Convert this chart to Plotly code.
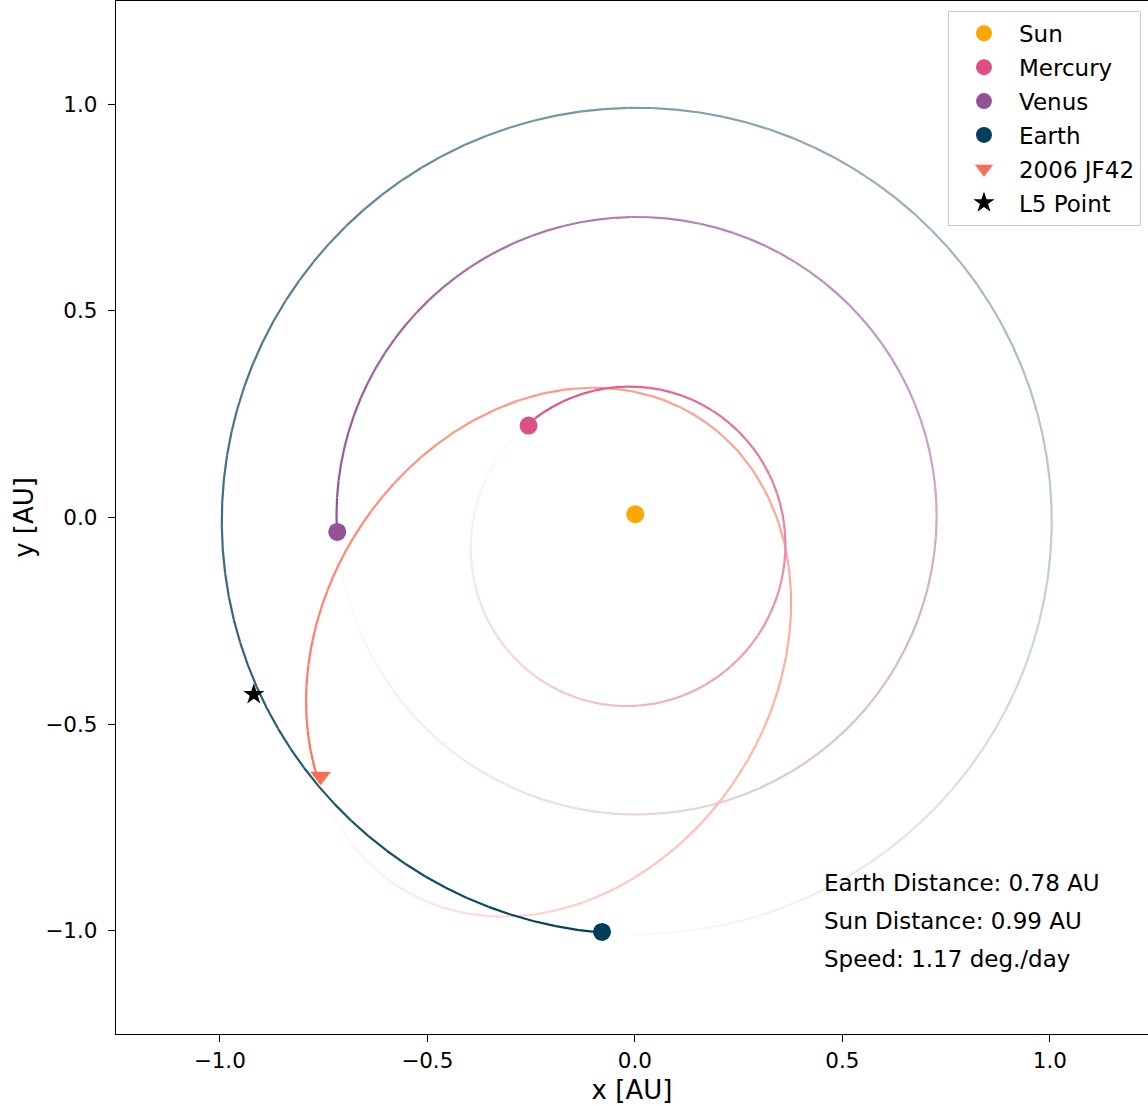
import numpy as np
import plotly.graph_objects as go

# ---------------- data ----------------
body_names = ["Sun", "Mercury", "Venus", "Earth", "2006 JF42", "L5 Point"]
body_colors = ["#ffa600", "#dd5182", "#955196", "#003f5c", "#ff6e54", "#000000"]
body_symbols = ["circle", "circle", "circle", "circle", "triangle-down", "star"]
body_sizes = [18, 18, 18, 18, 18, 16]
# current positions [AU]
pos_x = [0.001, -0.256, -0.717, -0.079, -0.757, -0.918]
pos_y = [0.008, 0.2225, -0.035, -1.003, -0.626, -0.428]

# orbits drawn as fading trails (one orbital period behind each body)
orbit_bodies = ["Mercury", "Venus", "Earth", "2006 JF42"]
semi_major = [0.387, 0.723, 1.000, 0.673]          # AU
eccentricity = [0.2056, 0.0068, 0.0167, 0.585]
perihelion_lon = [77.5, 131.5, 102.9, 58.0]        # deg

info_lines = ["Earth Distance: 0.78 AU", "Sun Distance: 0.99 AU", "Speed: 1.17 deg./day"]

x_ticks = [-1.0, -0.5, 0.0, 0.5, 1.0]
y_ticks = [-1.0, -0.5, 0.0, 0.5, 1.0]

# ---------------- helpers ----------------
def hex_rgb(h):
    h = h.lstrip("#")
    return tuple(int(h[i:i + 2], 16) for i in (0, 2, 4))


def blend(h, a):
    r, g, b = hex_rgb(h)
    return "rgb(%d,%d,%d)" % (round(255 + (r - 255) * a), round(255 + (g - 255) * a), round(255 + (b - 255) * a))


def kepler_E(M, e):
    E = M.copy()
    for _ in range(60):
        E = E - (E - e * np.sin(E) - M) / (1 - e * np.cos(E))
    return E


sun_x, sun_y = pos_x[0], pos_y[0]
K = 110
STEP = 10
N = K * STEP + 1
segments = []
for name, a, e, w in zip(orbit_bodies, semi_major, eccentricity, perihelion_lon):
    i = body_names.index(name)
    col = body_colors[i]
    wr = np.radians(w)
    theta0 = np.arctan2(pos_y[i] - sun_y, pos_x[i] - sun_x)
    nu0 = theta0 - wr
    E0 = 2 * np.arctan2(np.sqrt(1 - e) * np.sin(nu0 / 2), np.sqrt(1 + e) * np.cos(nu0 / 2))
    M0 = E0 - e * np.sin(E0)
    M = np.linspace(M0 - 2 * np.pi, M0, N)
    E = kepler_E(M, e)
    nu = 2 * np.arctan2(np.sqrt(1 + e) * np.sin(E / 2), np.sqrt(1 - e) * np.cos(E / 2))
    r = a * (1 - e * np.cos(E))
    xs = sun_x + r * np.cos(nu + wr)
    ys = sun_y + r * np.sin(nu + wr)
    alpha = np.linspace(0, 1, N)
    for k in range(K):
        s = k * STEP
        t = s + STEP + 1
        segments.append((float(alpha[s:t].mean()), col, xs[s:t], ys[s:t]))

segments.sort(key=lambda s: s[0])

fig = go.Figure()
for a, col, xs, ys in segments:
    fig.add_trace(go.Scatter(x=xs, y=ys, mode="lines",
                             line=dict(color=blend(col, a), width=2.2),
                             showlegend=False, hoverinfo="skip"))

for i, name in enumerate(body_names):
    fig.add_trace(go.Scatter(x=[pos_x[i]], y=[pos_y[i]], mode="markers", name=name,
                             legendgroup=name,
                             marker=dict(color=body_colors[i], symbol=body_symbols[i],
                                         size=body_sizes[i], line=dict(width=0))))

ann_y = [0.1465, 0.1091, 0.0723]
for txt, yy in zip(info_lines, ann_y):
    fig.add_annotation(x=0.6841, y=yy, xref="paper", yref="paper", text=txt,
                       showarrow=False, xanchor="left", yanchor="middle",
                       font=dict(size=23, color="black"))

FONT = "DejaVu Sans"
fig.update_layout(
    width=1148, height=1106,
    margin=dict(l=116, r=0, t=1, b=72),
    plot_bgcolor="white", paper_bgcolor="white",
    font=dict(family=FONT, size=21.5, color="black"),
    legend=dict(x=0.9932, y=0.9905, xanchor="right", yanchor="top",
                bgcolor="rgba(255,255,255,0.8)", bordercolor="#cccccc", borderwidth=1,
                font=dict(size=23), itemwidth=60, tracegroupgap=1,
                traceorder="grouped"),
)
fig.update_xaxes(range=[-1.25, 1.2365], tickvals=x_ticks, tickformat=".1f",
                 ticks="outside", ticklen=7, tickwidth=1.3, tickcolor="black",
                 showline=True, linecolor="black", linewidth=1.3, mirror=True,
                 showgrid=False, zeroline=False,
                 title=dict(text="x [AU]", standoff=8))
fig.update_yaxes(range=[-1.25, 1.25], tickvals=y_ticks, tickformat=".1f",
                 ticks="outside", ticklen=7, tickwidth=1.3, tickcolor="black",
                 ticklabelstandoff=6,
                 showline=True, linecolor="black", linewidth=1.3, mirror=False,
                 showgrid=False, zeroline=False,
                 title=dict(text="y [AU]", standoff=4))

fig.write_html("out.html", config={"displayModeBar": False},
               post_script="document.body.style.margin='0';document.body.style.overflow='hidden';")
